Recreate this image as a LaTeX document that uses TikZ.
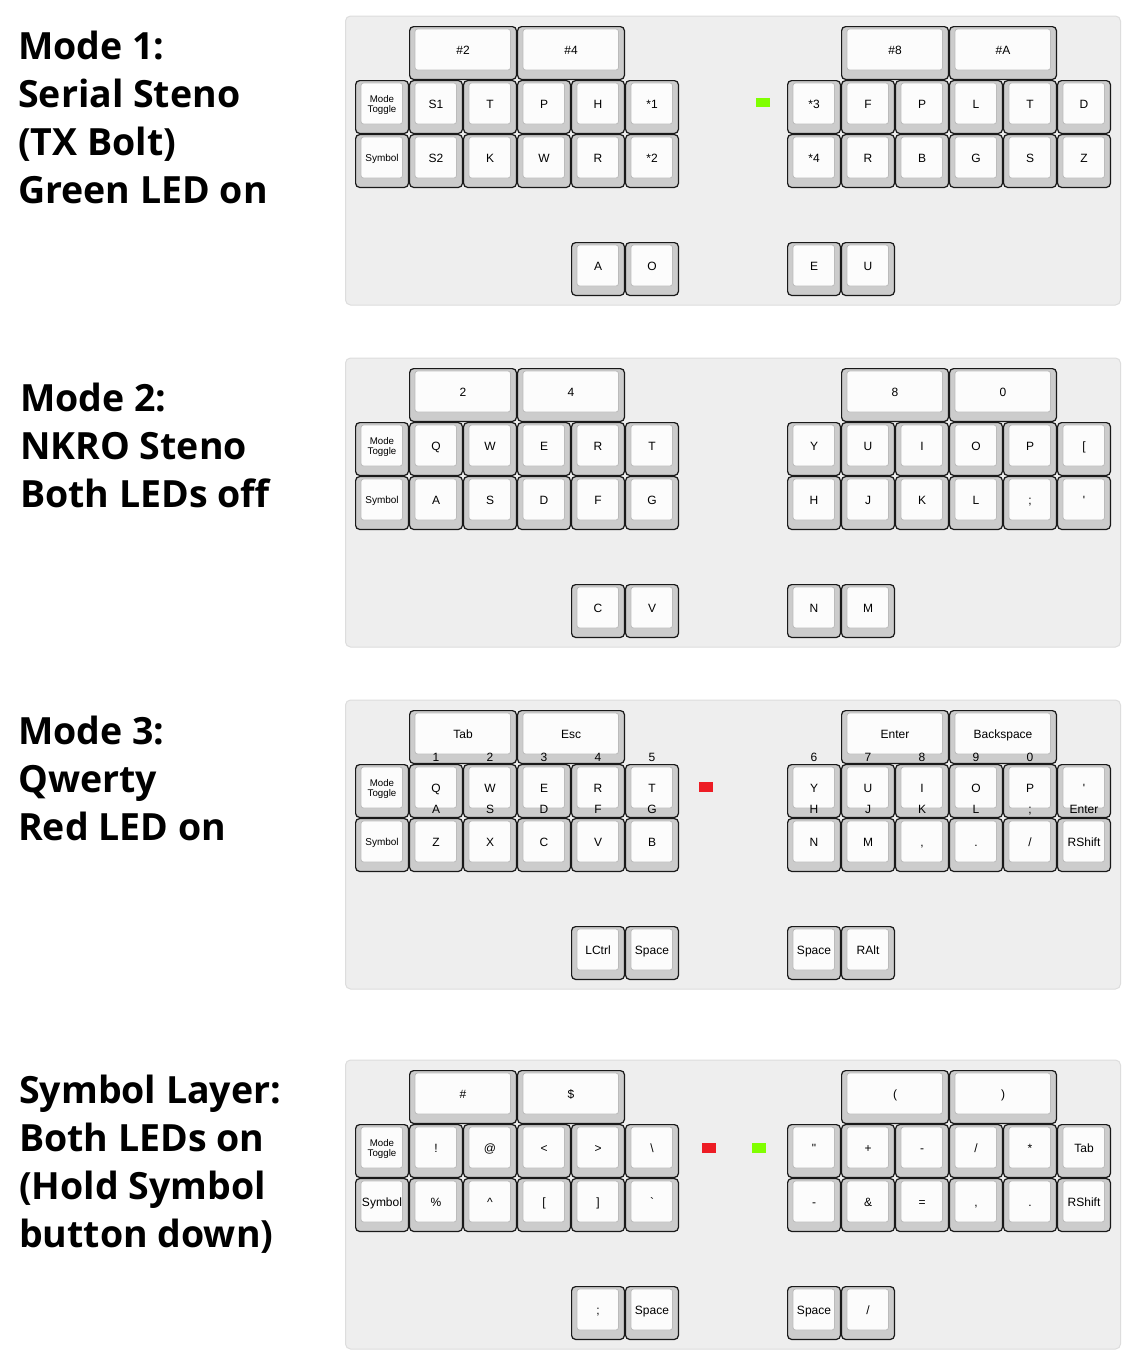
\documentclass[tikz,border=0pt]{standalone}
\usepackage{fontspec}
\setmainfont{Liberation Sans}
\newfontfamily\ttlfont{Open Sans}
\definecolor{panelbg}{HTML}{EEEEEE}
\definecolor{panelln}{HTML}{DDDDDD}
\definecolor{capgray}{HTML}{CCCCCC}
\definecolor{topwhite}{HTML}{FCFCFC}
\definecolor{topline}{HTML}{BBBBBB}
\definecolor{ledgreen}{HTML}{80FF00}
\definecolor{ledred}{HTML}{ED1C24}
\tikzset{
  panel/.style={fill=panelbg, draw=panelln, line width=1pt, rounded corners=5pt},
  keycap/.style={draw=black!90, fill=capgray, line width=1.2pt, rounded corners=4pt, minimum height=52.8pt, inner sep=0pt, outer sep=0pt},
  keytop/.style={fill=topwhite, draw=topline, line width=0.8pt, rounded corners=2.5pt},
  keylbl/.style={anchor=base, inner sep=0pt, font=\fontsize{12}{14}\selectfont},
  smalllbl/.style={anchor=base, inner sep=0pt, font=\fontsize{9.7}{10}\selectfont},
  ttl/.style={anchor=base west, inner sep=0pt, font=\ttlfont\bfseries\fontsize{37.5}{45}\selectfont},
  ledg/.style={fill=ledgreen, draw=none},
  ledr/.style={fill=ledred, draw=none},
}
% #1 name, #2 x, #3 y, #4 width in units, #5 label
\newcommand\kk[5]{%
  \node[keycap, minimum width={#4*54-1.2}, anchor=north west] (#1) at ({#2+0.6},{#3+0.6}) {};
  \draw[keytop] ({#2+6},{#3+3}) rectangle ({#2+#4*54-6.5},{#3+44});
  \node[keylbl] (#1-l) at ({#2+#4*27},{#3+28}) {#5};
}
% mode toggle key
\newcommand\kmt[3]{%
  \kk{#1}{#2}{#3}{1}{}
  \node[smalllbl] (#1-m) at ({#2+27},{#3+22.2}) {Mode};
  \node[smalllbl] (#1-n) at ({#2+27},{#3+32.2}) {Toggle};
}
% small symbol key
\newcommand\ksym[3]{%
  \kk{#1}{#2}{#3}{1}{}
  \node[smalllbl, font=\fontsize{10}{10}\selectfont] (#1-m) at ({#2+27},{#3+27.3}) {Symbol};
}
% extra legends: #1 name, #2 x, #3 y, #4 top, #5 bottom
\newcommand\kleg[5]{%
  \node[keylbl] (#1-t) at ({#2+27},{#3-2.7}) {#4};
  \node[keylbl] (#1-b) at ({#2+27},{#3+49.3}) {#5};
}
\begin{document}
\begin{tikzpicture}[x=1pt,y=-1pt]
\useasboundingbox (0,0) rectangle (1140,1368);
\fill[white] (0,0) rectangle (1140,1368);

%================ Panel 1
\node[ttl] (t1a) at (18,59.5) {Mode 1:};
\node[ttl] (t1b) at (18,107.5) {Serial Steno};
\node[ttl] (t1c) at (18,155.5) {(TX Bolt)};
\node[ttl] (t1d) at (18,203.5) {Green LED on};
\draw[panel] (345.5,16) rectangle (1120.5,305);
\kk{a2}{409}{26}{2}{\#2}
\kk{a4}{517}{26}{2}{\#4}
\kk{a8}{841}{26}{2}{\#8}
\kk{aA}{949}{26}{2}{\#A}
\kmt{amt}{355}{80}
\kk{aS1}{409}{80}{1}{S1}
\kk{aT}{463}{80}{1}{T}
\kk{aP}{517}{80}{1}{P}
\kk{aH}{571}{80}{1}{H}
\kk{as1}{625}{80}{1}{*1}
\kk{as3}{787}{80}{1}{*3}
\kk{aF}{841}{80}{1}{F}
\kk{aPr}{895}{80}{1}{P}
\kk{aL}{949}{80}{1}{L}
\kk{aTr}{1003}{80}{1}{T}
\kk{aD}{1057}{80}{1}{D}
\ksym{asym}{355}{134}
\kk{aS2}{409}{134}{1}{S2}
\kk{aK}{463}{134}{1}{K}
\kk{aW}{517}{134}{1}{W}
\kk{aR}{571}{134}{1}{R}
\kk{as2}{625}{134}{1}{*2}
\kk{as4}{787}{134}{1}{*4}
\kk{aRr}{841}{134}{1}{R}
\kk{aB}{895}{134}{1}{B}
\kk{aG}{949}{134}{1}{G}
\kk{aS}{1003}{134}{1}{S}
\kk{aZ}{1057}{134}{1}{Z}
\kk{aA}{571}{242}{1}{A}
\kk{aO}{625}{242}{1}{O}
\kk{aE}{787}{242}{1}{E}
\kk{aU}{841}{242}{1}{U}
\fill[ledg] (755.5,97.5) rectangle (770,107);

%================ Panel 2
\node[ttl] (t2a) at (20,411) {Mode 2:};
\node[ttl] (t2b) at (20,459) {NKRO Steno};
\node[ttl] (t2c) at (20,507) {Both LEDs off};
\draw[panel] (345.5,358) rectangle (1120.5,647);
\kk{b2}{409}{368}{2}{2}
\kk{b4}{517}{368}{2}{4}
\kk{b8}{841}{368}{2}{8}
\kk{b0}{949}{368}{2}{0}
\kmt{bmt}{355}{422}
\kk{bQ}{409}{422}{1}{Q}
\kk{bW}{463}{422}{1}{W}
\kk{bE}{517}{422}{1}{E}
\kk{bR}{571}{422}{1}{R}
\kk{bT}{625}{422}{1}{T}
\kk{bY}{787}{422}{1}{Y}
\kk{bU}{841}{422}{1}{U}
\kk{bI}{895}{422}{1}{I}
\kk{bO}{949}{422}{1}{O}
\kk{bP}{1003}{422}{1}{P}
\kk{bLB}{1057}{422}{1}{[}
\ksym{bsym}{355}{476}
\kk{bA}{409}{476}{1}{A}
\kk{bS}{463}{476}{1}{S}
\kk{bD}{517}{476}{1}{D}
\kk{bF}{571}{476}{1}{F}
\kk{bG}{625}{476}{1}{G}
\kk{bH}{787}{476}{1}{H}
\kk{bJ}{841}{476}{1}{J}
\kk{bK}{895}{476}{1}{K}
\kk{bL}{949}{476}{1}{L}
\kk{bSC}{1003}{476}{1}{;}
\kk{bAP}{1057}{476}{1}{\textquotesingle}
\kk{bC}{571}{584}{1}{C}
\kk{bV}{625}{584}{1}{V}
\kk{bN}{787}{584}{1}{N}
\kk{bM}{841}{584}{1}{M}

%================ Panel 3
\node[ttl] (t3a) at (18,744) {Mode 3:};
\node[ttl] (t3b) at (18,792) {Qwerty};
\node[ttl] (t3c) at (18,840) {Red LED on};
\draw[panel] (345.5,700) rectangle (1120.5,989);
\kk{cTab}{409}{710}{2}{Tab}
\kk{cEsc}{517}{710}{2}{Esc}
\kk{cEnt}{841}{710}{2}{Enter}
\kk{cBsp}{949}{710}{2}{Backspace}
\kmt{cmt}{355}{764}
\kk{cQ}{409}{764}{1}{Q}
\kk{cW}{463}{764}{1}{W}
\kk{cE}{517}{764}{1}{E}
\kk{cR}{571}{764}{1}{R}
\kk{cT}{625}{764}{1}{T}
\kk{cY}{787}{764}{1}{Y}
\kk{cU}{841}{764}{1}{U}
\kk{cI}{895}{764}{1}{I}
\kk{cO}{949}{764}{1}{O}
\kk{cP}{1003}{764}{1}{P}
\kk{cAP}{1057}{764}{1}{\textquotesingle}
\ksym{csym}{355}{818}
\kk{cZ}{409}{818}{1}{Z}
\kk{cX}{463}{818}{1}{X}
\kk{cC}{517}{818}{1}{C}
\kk{cV}{571}{818}{1}{V}
\kk{cB}{625}{818}{1}{B}
\kk{cN}{787}{818}{1}{N}
\kk{cM}{841}{818}{1}{M}
\kk{cCM}{895}{818}{1}{,}
\kk{cDT}{949}{818}{1}{.}
\kk{cSL}{1003}{818}{1}{/}
\kk{cRS}{1057}{818}{1}{RShift}
\kleg{cQ}{409}{764}{1}{A}
\kleg{cW}{463}{764}{2}{S}
\kleg{cE}{517}{764}{3}{D}
\kleg{cR}{571}{764}{4}{F}
\kleg{cT}{625}{764}{5}{G}
\kleg{cY}{787}{764}{6}{H}
\kleg{cU}{841}{764}{7}{J}
\kleg{cI}{895}{764}{8}{K}
\kleg{cO}{949}{764}{9}{L}
\kleg{cP}{1003}{764}{0}{;}
\node[keylbl] (cAP-b) at (1084,813.3) {Enter};
\kk{cLC}{571}{926}{1}{LCtrl}
\kk{cSp}{625}{926}{1}{Space}
\kk{cSp2}{787}{926}{1}{Space}
\kk{cRA}{841}{926}{1}{RAlt}
\fill[ledr] (698.5,782) rectangle (713,791.5);

%================ Panel 4
\node[ttl] (t4a) at (19,1103) {Symbol Layer:};
\node[ttl] (t4b) at (19,1151) {Both LEDs on};
\node[ttl] (t4c) at (19,1199) {(Hold Symbol};
\node[ttl] (t4d) at (19,1247) {button down)};
\draw[panel] (345.5,1060) rectangle (1120.5,1349);
\kk{dHS}{409}{1070}{2}{\#}
\kk{dDL}{517}{1070}{2}{\$}
\kk{dLP}{841}{1070}{2}{(}
\kk{dRP}{949}{1070}{2}{)}
\kmt{dmt}{355}{1124}
\kk{dEX}{409}{1124}{1}{!}
\kk{dAT}{463}{1124}{1}{@}
\kk{dLT}{517}{1124}{1}{<}
\kk{dGT}{571}{1124}{1}{>}
\kk{dBS}{625}{1124}{1}{\textbackslash}
\kk{dDQ}{787}{1124}{1}{\textquotedbl}
\kk{dPL}{841}{1124}{1}{+}
\kk{dMI}{895}{1124}{1}{-}
\kk{dSL}{949}{1124}{1}{/}
\kk{dST}{1003}{1124}{1}{*}
\kk{dTab}{1057}{1124}{1}{Tab}
\kk{dsym}{355}{1178}{1}{Symbol}
\kk{dPC}{409}{1178}{1}{\%}
\kk{dCA}{463}{1178}{1}{\textasciicircum}
\kk{dLB}{517}{1178}{1}{[}
\kk{dRB}{571}{1178}{1}{]}
\kk{dGR}{625}{1178}{1}{\textasciigrave}
\kk{dMI2}{787}{1178}{1}{-}
\kk{dAM}{841}{1178}{1}{\&}
\kk{dEQ}{895}{1178}{1}{=}
\kk{dCM}{949}{1178}{1}{,}
\kk{dDT}{1003}{1178}{1}{.}
\kk{dRS}{1057}{1178}{1}{RShift}
\kk{dSC}{571}{1286}{1}{;}
\kk{dSp}{625}{1286}{1}{Space}
\kk{dSp2}{787}{1286}{1}{Space}
\kk{dSL2}{841}{1286}{1}{/}
\fill[ledr] (701.5,1143) rectangle (716,1152.5);
\fill[ledg] (751.5,1143) rectangle (766,1152.5);
\end{tikzpicture}
\end{document}
